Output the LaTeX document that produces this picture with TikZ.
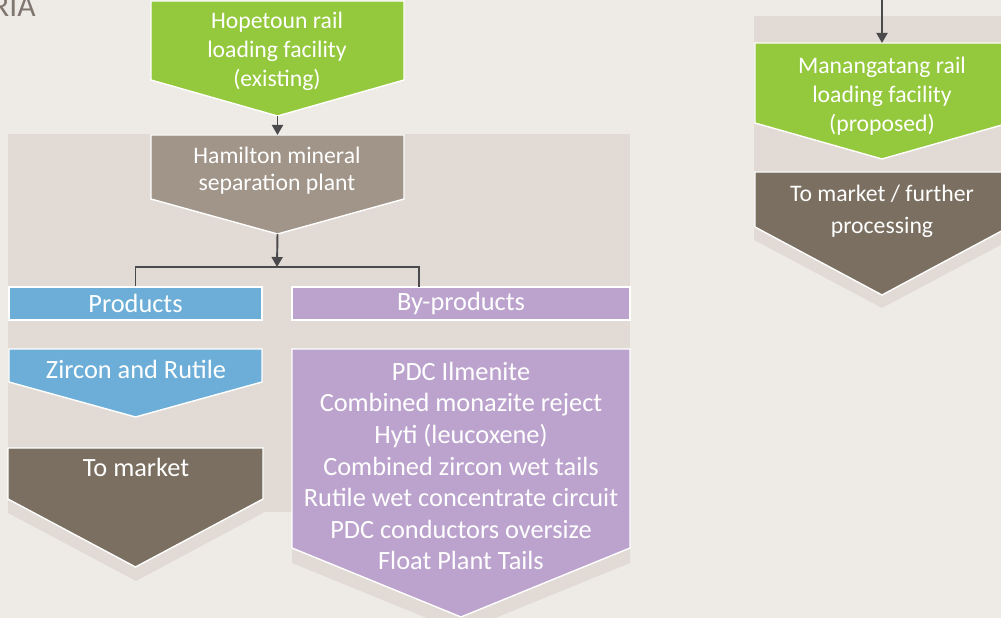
\documentclass[tikz,border=0pt]{standalone}
\usepackage{fontspec}
\setmainfont{Carlito}
\usetikzlibrary{arrows.meta}

\definecolor{paper}{HTML}{EEEBE6}
\definecolor{panel}{HTML}{E2DBD5}
\definecolor{railgreen}{HTML}{94C83D}
\definecolor{plantbrown}{HTML}{A09588}
\definecolor{marketbrown}{HTML}{7A6F60}
\definecolor{prodblue}{HTML}{6CAED7}
\definecolor{bylilac}{HTML}{BCA3CD}
\definecolor{linkgray}{HTML}{4A4A4C}
\definecolor{titlegray}{HTML}{7F776F}

\tikzset{
  chevbox/.style={draw=white, line width=0.8pt},
  bigtext/.style={text=white, align=center, font=\fontsize{15}{18}\selectfont},
  smalltext/.style={text=white, align=center, font=\fontsize{13.5}{16.5}\selectfont},
  barbox/.style={draw=white, line width=0.8pt, minimum height=0.66cm, inner sep=0pt,
    text=white, font=\fontsize{15}{18}\selectfont},
  link/.style={line width=1.1pt, draw=linkgray, -{Triangle[width=0.22cm,length=0.2cm]}},
  wire/.style={line width=1.1pt, draw=linkgray}
}

% chevron: name, colour, left, right, top, corner, tip
\newcommand{\chevron}[7]{%
  \path[chevbox, fill=#2] (#3,#5) -- (#4,#5) -- (#4,#6) -- ({(#3+#4)/2},#7) -- (#3,#6) -- cycle;
  \coordinate (#1-top) at ({(#3+#4)/2},#5);
  \coordinate (#1-tip) at ({(#3+#4)/2},#7);
}

\begin{document}
\begin{tikzpicture}[x=0.02cm, y=-0.02cm]
   \useasboundingbox (0,0) rectangle (1001,618);
   \fill[paper] (0,0) rectangle (1001,618);
   % tinted panels and drop shadows
   \fill[panel] (8,134) rectangle (630,512);
   \fill[panel] (8,462) -- (263,462) -- (263,513) -- (136,581) -- (8,513) -- cycle;
   \fill[panel] (292,363) -- (630,363) -- (630,563) -- (461,632) -- (292,563) -- cycle;
   \fill[panel] (754,16) rectangle (1010,228);
   \fill[panel] (754,185) -- (1010,185) -- (1010,240) -- (882,308) -- (754,240) -- cycle;
   \node[anchor=base east, inner sep=0pt, text=titlegray, font=\fontsize{18}{18}\selectfont] (title) at (36,17) {RIA};
   % left column
   \chevron{hopetoun}{railgreen}{151}{404}{1}{80}{116}
   \chevron{hamilton}{plantbrown}{151}{404}{135}{199}{234}
   \chevron{zircon}{prodblue}{9}{262}{349}{382}{417}
   \chevron{market}{marketbrown}{8}{263}{448}{499}{567}
   \chevron{bylist}{bylilac}{292}{630}{349}{548}{617}
   \node[barbox, fill=prodblue, minimum width=5.06cm] (products) at (135.5,303.5) {Products};
   \node[barbox, fill=bylilac, minimum width=6.76cm] (byproducts) at (461,303.5) {By-products};
   \node[smalltext] (hopetounlbl) at (277,51) {Hopetoun rail\\loading facility\\(existing)};
   \node[smalltext, font=\fontsize{13.5}{15.5}\selectfont] (hamiltonlbl) at (277,171) {Hamilton mineral\\separation plant};
   \node[bigtext] (zirconlbl) at (136,369) {Zircon and Rutile};
   \node[bigtext] (marketlbl) at (136,467) {To market};
   \node[bigtext] (bylistlbl) at (461,466) {PDC Ilmenite\\Combined monazite reject\\Hyti (leucoxene)\\Combined zircon wet tails\\Rutile wet concentrate circuit\\PDC conductors oversize\\Float Plant Tails};
   % right column
   \chevron{manangatang}{railgreen}{755}{1009}{43}{123}{159}
   \chevron{further}{marketbrown}{755}{1009}{172}{227}{295}
   \node[smalltext] (manangatanglbl) at (882,96) {Manangatang rail\\loading facility\\(proposed)};
   \node[smalltext, font=\fontsize{13.5}{18}\selectfont] (furtherlbl) at (882,211) {To market / further\\processing};
   % connectors
   \coordinate (split) at (277,267);
   \coordinate (bydrop) at (419,287);
   \coordinate (fromabove) at (882,-5);
   \draw[link] (hopetoun-tip) -- (hamilton-top);
   \draw[link] (hamilton-tip) -- (split);
   \draw[wire] (products.north) |- (split) -| (bydrop);
   \draw[link] (fromabove) -- (manangatang-top);
\end{tikzpicture}
\end{document}
